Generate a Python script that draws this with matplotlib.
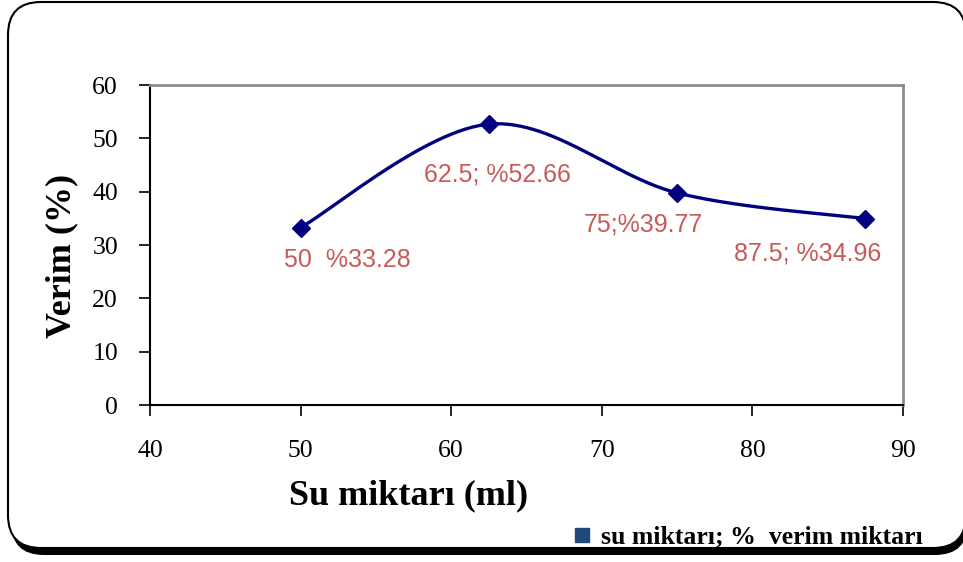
import numpy as np
import matplotlib
matplotlib.use("Agg")
import matplotlib.pyplot as plt
from matplotlib.patches import FancyBboxPatch
from matplotlib.lines import Line2D

# ---- data ----
su_miktari = [50, 62.5, 75, 87.5]
verim = [33.28, 52.66, 39.77, 34.96]
point_labels = ["50  %33.28", "62.5; %52.66", "75;%39.77", "87.5; %34.96"]
label_offsets = [(47, -32), (9, -50), (-34, -32), (-58, -35)]  # pixels
x_ticks = [40, 50, 60, 70, 80, 90]
y_ticks = [0, 10, 20, 30, 40, 50, 60]
legend_label = "su miktarı; %  verim miktarı"
x_label = "Su miktarı (ml)"
y_label = "Verim (%)"

W, H = 963, 562
fig = plt.figure(figsize=(W / 100, H / 100), dpi=100)
fig.patch.set_facecolor("white")

# background frame axes in pixel coordinates (y downwards)
bg = fig.add_axes([0, 0, 1, 1])
bg.set_xlim(0, W)
bg.set_ylim(H, 0)
bg.axis("off")
bg.set_zorder(0)
bg.add_patch(FancyBboxPatch((11, 8), 968 - 11, 555 - 8,
                            boxstyle="round,pad=0,rounding_size=33",
                            facecolor="black", edgecolor="black", lw=0))
bg.add_patch(FancyBboxPatch((8, 2), 966 - 8, 548 - 2,
                            boxstyle="round,pad=0,rounding_size=33",
                            facecolor="white", edgecolor="black", lw=1.5))

ax = fig.add_axes([150 / W, 1 - 405 / H, (903 - 150) / W, (405 - 85) / H])
ax.set_zorder(2)
ax.patch.set_alpha(0)
ax.set_xlim(40, 90)
ax.set_ylim(0, 60)
ax.set_xticks(x_ticks)
ax.set_yticks(y_ticks)

serif = ["Liberation Serif", "DejaVu Serif"]
for lab in ax.get_xticklabels() + ax.get_yticklabels():
    lab.set_fontfamily(serif)
    lab.set_fontsize(18.5)
ax.tick_params(axis="both", direction="out", length=8, width=1.2, color="black")
ax.tick_params(axis="y", pad=15)
ax.tick_params(axis="x", pad=17)
for s in ["left", "bottom"]:
    ax.spines[s].set_color("black")
    ax.spines[s].set_linewidth(1.5)
for s in ["top", "right"]:
    ax.spines[s].set_color("#8c8c8c")
    ax.spines[s].set_linewidth(2.0)

# smoothed line (Catmull-Rom Bezier in pixel space, like Excel smoothing)
sx = 753 / 50.0
sy = 320 / 60.0
P = np.column_stack([np.array(su_miktari) * sx, np.array(verim) * sy])
Pext = np.vstack([P[0], P, P[-1]])
curve = []
t = np.linspace(0, 1, 60)[:, None]
for i in range(len(P) - 1):
    p0, p1, p2, p3 = Pext[i], Pext[i + 1], Pext[i + 2], Pext[i + 3]
    c1 = p1 + (p2 - p0) / 6.0
    c2 = p2 - (p3 - p1) / 6.0
    seg = (1 - t) ** 3 * p1 + 3 * (1 - t) ** 2 * t * c1 + 3 * (1 - t) * t ** 2 * c2 + t ** 3 * p2
    curve.append(seg)
curve = np.vstack(curve)
ax.plot(curve[:, 0] / sx, curve[:, 1] / sy, color="#000080", lw=2.4, zorder=3, clip_on=False)
ax.plot(su_miktari, verim, linestyle="none", marker="D", markersize=9,
        color="#000080", zorder=4, clip_on=False)

for xv, yv, txt, off in zip(su_miktari, verim, point_labels, label_offsets):
    ax.annotate(txt, (xv, yv), xytext=off, textcoords="offset pixels",
                ha="center", va="center", fontsize=18, color="#C85A57",
                family=["Liberation Sans", "DejaVu Sans"])

fig.text(409 / W, 1 - 496 / H, x_label, ha="center", va="center",
         fontsize=26, fontweight="bold", family=serif, zorder=5)
fig.text(62 / W, 1 - 256 / H, y_label, ha="center", va="center", rotation=90,
         fontsize=26, fontweight="bold", family=serif, zorder=5)

handle = Line2D([], [], linestyle="none", marker="s", markersize=10,
                color="#1F497D")
fig.legend([handle], [legend_label], loc="center left",
           bbox_to_anchor=(570 / W, 1 - 537 / H), frameon=False,
           prop={"family": serif, "size": 18.5, "weight": "bold"},
           handletextpad=0.3, handlelength=0.9, borderaxespad=0, borderpad=0)

fig.savefig("out.png", dpi=100, facecolor="white")
